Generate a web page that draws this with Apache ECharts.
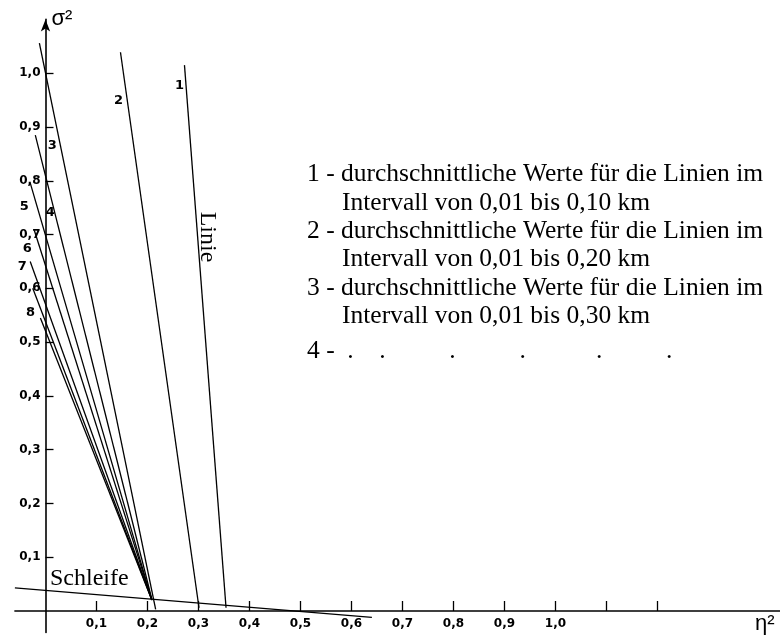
<!DOCTYPE html>
<html><head><meta charset="utf-8">
<script src="https://cdn.jsdelivr.net/npm/echarts@6/dist/echarts.min.js"></script>
<style>html,body{margin:0;padding:0;background:#fff}#c{width:780px;height:636px}</style>
</head><body><div id="c"></div>
<script>
// ---- data ----
const xTickValues = [0.1, 0.2, 0.3, 0.4, 0.5, 0.6, 0.7, 0.8, 0.9, 1.0, 1.1, 1.2];
const xLabelValues = [0.1, 0.2, 0.3, 0.4, 0.5, 0.6, 0.7, 0.8, 0.9, 1.0];
const yTickValues = [0.1, 0.2, 0.3, 0.4, 0.5, 0.6, 0.7, 0.8, 0.9, 1.0];

const line1 = [[0.2725, 1.015], [0.354, 0.006]];
const line2 = [[0.147, 1.039], [0.301, 0.006]];
const line3 = [[-0.012, 1.056], [0.216, 0.003]];
const line4 = [[-0.020, 0.885], [0.209, 0.020]];
const line5 = [[-0.030, 0.796], [0.208, 0.022]];
const line6 = [[-0.022, 0.708], [0.208, 0.022]];
const line7 = [[-0.030, 0.650], [0.208, 0.022]];
const lineX = [[-0.025, 0.600], [0.208, 0.022]];
const line8 = [[-0.010, 0.545], [0.208, 0.022]];
const schleife = [[-0.06, 0.043], [0.64, -0.012]];

const legendLines = [
  '1 - durchschnittliche Werte für die Linien im',
  'Intervall von 0,01 bis 0,10 km',
  '2 - durchschnittliche Werte für die Linien im',
  'Intervall von 0,01 bis 0,20 km',
  '3 - durchschnittliche Werte für die Linien im',
  'Intervall von 0,01 bis 0,30 km',
  '4 -  .    .          .          .           .          .'
];

// ---- layout ----
const X0 = 45.5, KX = 510, Y0 = 611, KY = 537.8;
const xMin = -0.06, xMax = 1.44, yMin = -0.04, yMax = 1.10;
// labels are anchored at the grid edge; pull them back to the zero lines
const yLabelMargin = 5 - (0 - xMin) * KX;
const xLabelMargin = 7 - (0 - yMin) * KY;

const allLines = [
  {d: line1, name: '1', off: [-5, 20]},
  {d: line2, name: '2', off: [-2, 48]},
  {d: line3, name: '3', off: [13, 103]},
  {d: line4, name: '4', off: [15, 78]},
  {d: line5, name: '5', off: [-6, 24]},
  {d: line6, name: '6', off: [-7, 18]},
  {d: line7, name: '7', off: [-8, 5]},
  {d: lineX, name: '', off: [0, 0]},
  {d: line8, name: '8', off: [-10, -5]},
  {d: schleife, name: '', off: [0, 0]}
];

const fmt = v => (Math.round(v * 10) / 10).toFixed(1).replace('.', ',');

const series = allLines.map(l => ({
  type: 'line', data: l.d, symbol: 'none', silent: true, clip: false,
  lineStyle: {color: '#000', width: 1.3}
}));
series.push({
  type: 'scatter', silent: true, symbolSize: 0, clip: false,
  itemStyle: {color: '#000'},
  data: allLines.filter(l => l.name).map(l => ({
    value: l.d[0],
    label: {show: true, formatter: l.name, position: 'inside', offset: l.off,
      color: '#000', opacity: 1, fontFamily: 'DejaVu Sans', fontWeight: 'bold', fontSize: 13}
  }))
});

const serif = 'Liberation Serif';
const baseY = [174, 203, 231, 259, 288, 316, 351];
const graphic = legendLines.map((t, i) => ({
  type: 'text', x: (i % 2 === 1) ? 342 : 307, y: baseY[i], silent: true,
  style: {text: t, font: '25.5px "' + serif + '"', fill: '#000',
    textAlign: 'left', textVerticalAlign: 'middle'}
}));
graphic.push({type: 'text', x: 207, y: 237, rotation: -Math.PI / 2, silent: true,
  style: {text: 'Linie', font: '24px "' + serif + '"', fill: '#000',
    textAlign: 'center', textVerticalAlign: 'middle'}});
graphic.push({type: 'text', x: 50, y: 579, silent: true,
  style: {text: 'Schleife', font: '24px "' + serif + '"', fill: '#000',
    textAlign: 'left', textVerticalAlign: 'middle'}});

const labelStyle = {color: '#000', fontFamily: 'DejaVu Sans', fontWeight: 'bold', fontSize: 12};

const option = {
  animation: false,
  backgroundColor: '#fff',
  grid: {left: X0 + xMin * KX, width: (xMax - xMin) * KX,
         top: Y0 - yMax * KY, height: (yMax - yMin) * KY,
         containLabel: false, outerBoundsMode: 'none'},
  xAxis: {
    type: 'value', min: xMin, max: xMax,
    name: 'η²', nameLocation: 'end', nameGap: -25,
    nameTextStyle: {color: '#000', fontFamily: 'Liberation Sans', fontSize: 22,
      align: 'left', verticalAlign: 'top', padding: [2, 0, 0, 0]},
    axisLine: {onZero: true, lineStyle: {color: '#000', width: 1.6}},
    axisTick: {show: true, inside: true, length: 10, customValues: xTickValues,
      lineStyle: {color: '#000', width: 1.3}},
    axisLabel: Object.assign({customValues: xLabelValues, formatter: fmt, margin: xLabelMargin}, labelStyle),
    splitLine: {show: false}
  },
  yAxis: {
    type: 'value', min: yMin, max: yMax,
    name: 'σ²', nameLocation: 'end', nameGap: 0,
    nameTextStyle: {color: '#000', fontFamily: 'Liberation Sans', fontSize: 22,
      align: 'left', verticalAlign: 'middle', padding: [2, 0, 0, 6]},
    axisLine: {onZero: true, symbol: ['none', 'arrow'], symbolSize: [7, 12],
      lineStyle: {color: '#000', width: 1.6}},
    axisTick: {show: true, inside: true, length: 8, customValues: yTickValues,
      lineStyle: {color: '#000', width: 1.3}},
    axisLabel: Object.assign({customValues: yTickValues, formatter: fmt, margin: yLabelMargin}, labelStyle),
    splitLine: {show: false}
  },
  series: series,
  graphic: graphic
};

const chart = echarts.init(document.getElementById('c'), null, {renderer: 'canvas'});
chart.setOption(option);
</script>
</body></html>
